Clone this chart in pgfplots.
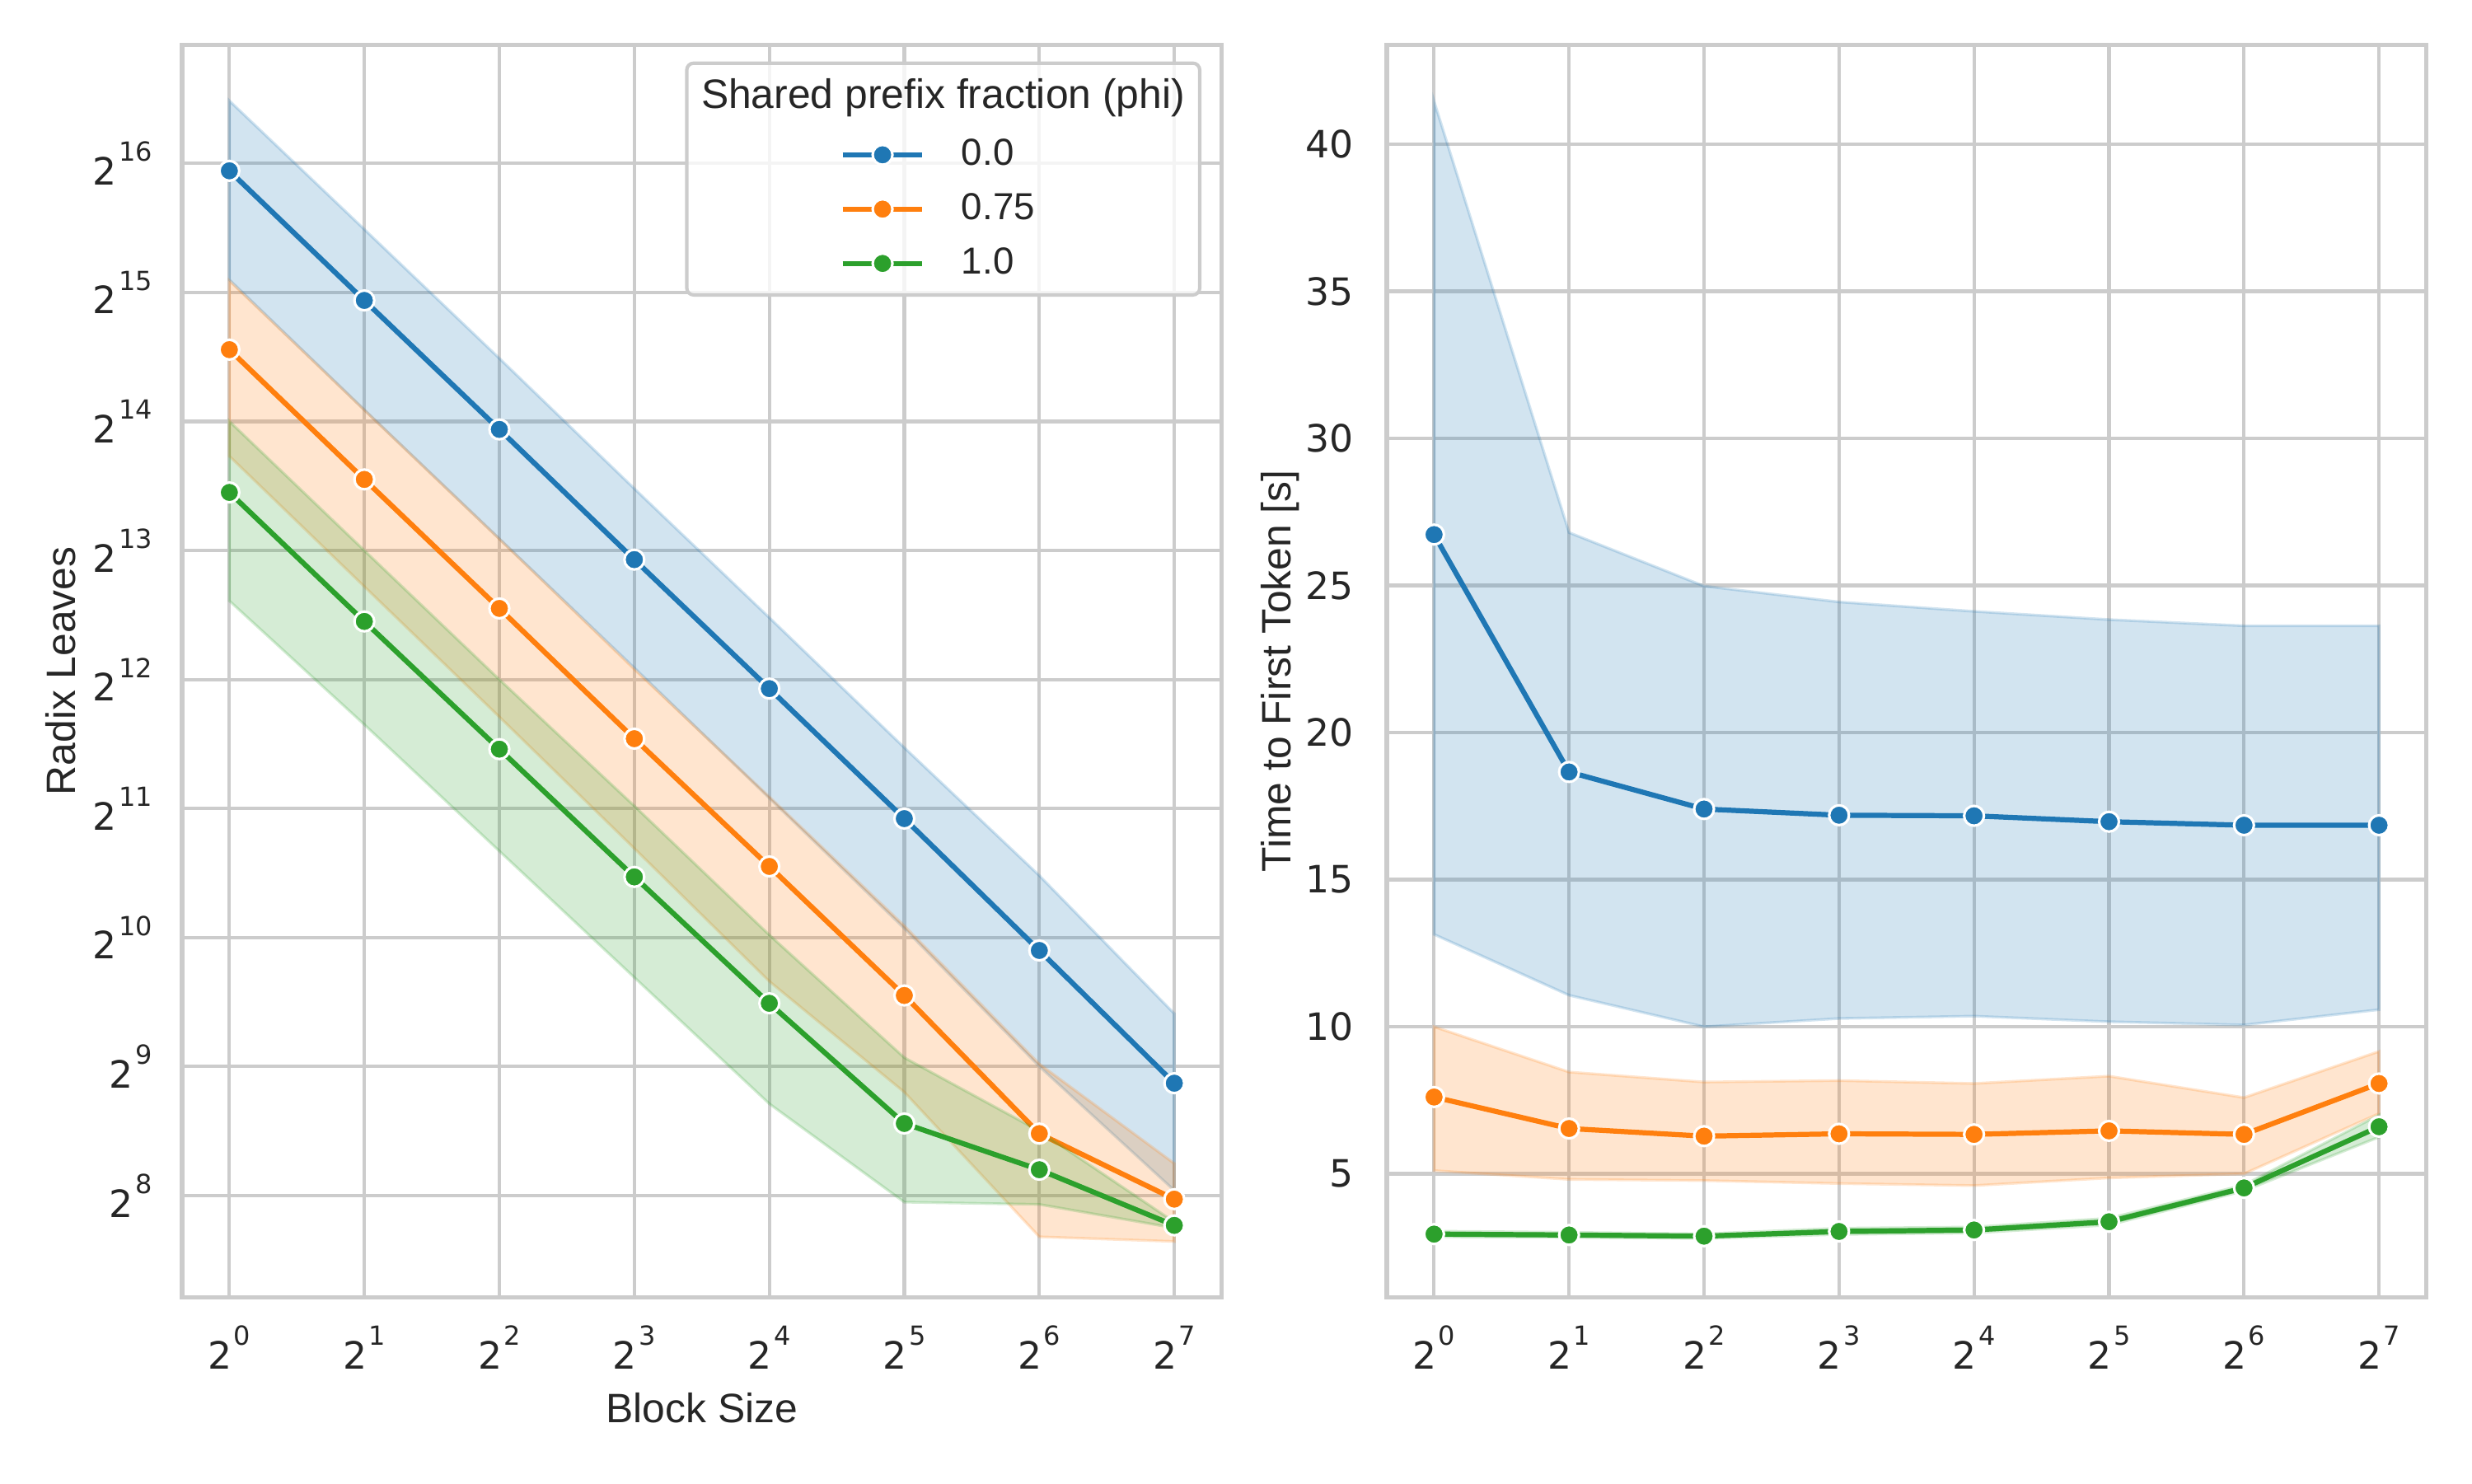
\documentclass[border=0pt]{standalone}
\usepackage{fontspec}
\setmainfont{Liberation Sans}
\newfontfamily\dejavu{DejaVu Sans}
\usepackage{pgfplots}
\pgfplotsset{compat=1.18}
\definecolor{cB}{HTML}{1F77B4}
\definecolor{cO}{HTML}{FF7F0E}
\definecolor{cG}{HTML}{2CA02C}
\definecolor{gridc}{HTML}{CCCCCC}
\definecolor{textc}{HTML}{262626}
\newcommand{\pw}[1]{2\hspace{0.6pt}\raisebox{6.9pt}{\fontsize{7.7}{9}\selectfont #1}}

\pgfplotsset{
  mySeries/.style={color=#1, line width=1.5pt, mark=*, mark size=2.9pt,
    mark options={solid, fill=#1, draw=white, line width=0.75pt}},
  myBand/.style={draw=#1, draw opacity=0.2, line width=0.8pt, fill=#1, fill opacity=0.2},
  legend image code/.code={\draw[mark repeat=2,mark phase=2,#1] plot coordinates {(0pt,0pt) (11.65pt,0pt) (23.3pt,0pt)};},
}

\begin{document}
\begin{tikzpicture}
\path[use as bounding box] (0,0) rectangle (10in,6in);

\begin{axis}[at={(0.7367in,0.7517in)}, anchor=south west,
  scale only axis, width=4.205in, height=5.067in,
  xmode=log, log basis x=2, xmin=0.7846, xmax=163.15,
  xtick={1,2,4,8,16,32,64,128},
  xticklabels={\pw{0},\pw{1},\pw{2},\pw{3},\pw{4},\pw{5},\pw{6},\pw{7}},
  ymode=log, log basis y=2, ymin=148.1, ymax=124000,
  ytick={256,512,1024,2048,4096,8192,16384,32768,65536},
  yticklabels={\pw{8},\pw{9},\pw{10},\pw{11},\pw{12},\pw{13},\pw{14},\pw{15},\pw{16}},
  xminorticks=false, yminorticks=false,
  grid=major, major grid style={draw=gridc, line width=1pt},
  axis line style={draw=gridc, line width=1.25pt},
  major tick length=0pt,
  tick label style={font=\dejavu\fontsize{11}{13}\selectfont, text=textc},
  xticklabel style={yshift=-4.8pt},
  yticklabel style={xshift=-5.2pt},
  label style={font=\fontsize{12}{14}\selectfont, text=textc},
  xlabel={Block Size}, ylabel={Radix Leaves},
  xlabel style={at={(rel axis cs:0.5,-0.0885)}, anchor=center},
  ylabel style={at={(rel axis cs:-0.1168,0.5)}, anchor=center},
  legend style={at={(rel axis cs:0.730,0.8688)}, anchor=center, draw=none, fill=none,
    inner sep=0pt, row sep=2.7pt, column sep=8.7pt,
    font=\fontsize{11}{13}\selectfont, text=textc},
  legend cell align=left,
]
% phi = 0.0
\addplot[mySeries=cB] coordinates {(1,63000) (2,31400) (4,15700) (8,7800) (16,3900) (32,1940) (64,955) (128,468)};
\addlegendentry{0.0}
\addplot[myBand=cB, forget plot] coordinates {(1,91800) (2,46000) (4,23000) (8,11420) (16,5710) (32,2840) (64,1428) (128,680)
  (128,263) (64,512) (32,1075) (16,2165) (8,4360) (4,8720) (2,17430) (1,35100)} -- cycle;
% phi = 0.75
\addplot[mySeries=cO] coordinates {(1,24100) (2,12000) (4,6000) (8,2980) (16,1500) (32,750) (64,357) (128,251)};
\addlegendentry{0.75}
\addplot[myBand=cO, forget plot] coordinates {(1,34900) (2,17440) (4,8720) (8,4326) (16,2180) (32,1090) (64,519) (128,304)
  (128,200) (64,205) (32,446) (16,809) (8,1652) (4,3350) (2,6747) (1,13600)} -- cycle;
% phi = 1.0
\addplot[mySeries=cG] coordinates {(1,11190) (2,5595) (4,2817) (8,1418) (16,719) (32,377) (64,294) (128,218)};
\addlegendentry{1.0}
\addplot[myBand=cG, forget plot] coordinates {(1,16400) (2,8192) (4,4096) (8,2076) (16,1038) (32,537) (64,362) (128,222)
  (128,215) (64,244) (32,247) (16,419) (8,826) (4,1629) (2,3214) (1,6250)} -- cycle;

\draw[draw=gridc, line width=1pt, fill=white, fill opacity=0.8, rounded corners=2pt]
  (rel axis cs:0.4855,0.8003) rectangle (rel axis cs:0.979,0.9853);
\node[font=\fontsize{12}{14}\selectfont, text=textc] at (rel axis cs:0.7321,0.9576) {Shared prefix fraction (phi)};
\end{axis}

\begin{axis}[at={(5.61in,0.7517in)}, anchor=south west,
  scale only axis, width=4.205in, height=5.067in,
  xmode=log, log basis x=2, xmin=0.7846, xmax=163.15,
  xtick={1,2,4,8,16,32,64,128},
  xticklabels={\pw{0},\pw{1},\pw{2},\pw{3},\pw{4},\pw{5},\pw{6},\pw{7}},
  ymin=0.80, ymax=43.38, ytick={5,10,15,20,25,30,35,40},
  xminorticks=false, yminorticks=false,
  grid=major, major grid style={draw=gridc, line width=1pt},
  axis line style={draw=gridc, line width=1.25pt},
  major tick length=0pt,
  /pgf/number format/assume math mode=true,
  tick label style={font=\dejavu\fontsize{11}{13}\selectfont, text=textc},
  xticklabel style={yshift=-4.8pt},
  yticklabel style={xshift=-6.3pt},
  label style={font=\fontsize{12}{14}\selectfont, text=textc},
  ylabel={Time to First Token [s]},
  ylabel style={at={(rel axis cs:-0.1027,0.5)}, anchor=center},
]
\addplot[mySeries=cB] coordinates {(1,26.73) (2,18.66) (4,17.40) (8,17.19) (16,17.17) (32,16.97) (64,16.85) (128,16.85)};
\addplot[myBand=cB, forget plot] coordinates {(1,41.46) (2,26.80) (4,24.98) (8,24.44) (16,24.12) (32,23.84) (64,23.63) (128,23.63)
  (128,10.58) (64,10.06) (32,10.17) (16,10.36) (8,10.28) (4,10.00) (2,11.07) (1,13.14)} -- cycle;
\addplot[mySeries=cO] coordinates {(1,7.61) (2,6.54) (4,6.28) (8,6.36) (16,6.34) (32,6.46) (64,6.34) (128,8.07)};
\addplot[myBand=cO, forget plot] coordinates {(1,10.00) (2,8.46) (4,8.12) (8,8.17) (16,8.07) (32,8.32) (64,7.59) (128,9.16)
  (128,7.05) (64,5.00) (32,4.86) (16,4.60) (8,4.67) (4,4.77) (2,4.81) (1,5.11)} -- cycle;
\addplot[mySeries=cG] coordinates {(1,2.95) (2,2.92) (4,2.88) (8,3.04) (16,3.09) (32,3.37) (64,4.52) (128,6.60)};
\addplot[myBand=cG, forget plot] coordinates {(1,3.05) (2,3.01) (4,2.96) (8,3.15) (16,3.19) (32,3.49) (64,4.62) (128,7.00)
  (128,6.25) (64,4.42) (32,3.26) (16,2.99) (8,2.94) (4,2.80) (2,2.84) (1,2.86)} -- cycle;
\end{axis}
\end{tikzpicture}
\end{document}
